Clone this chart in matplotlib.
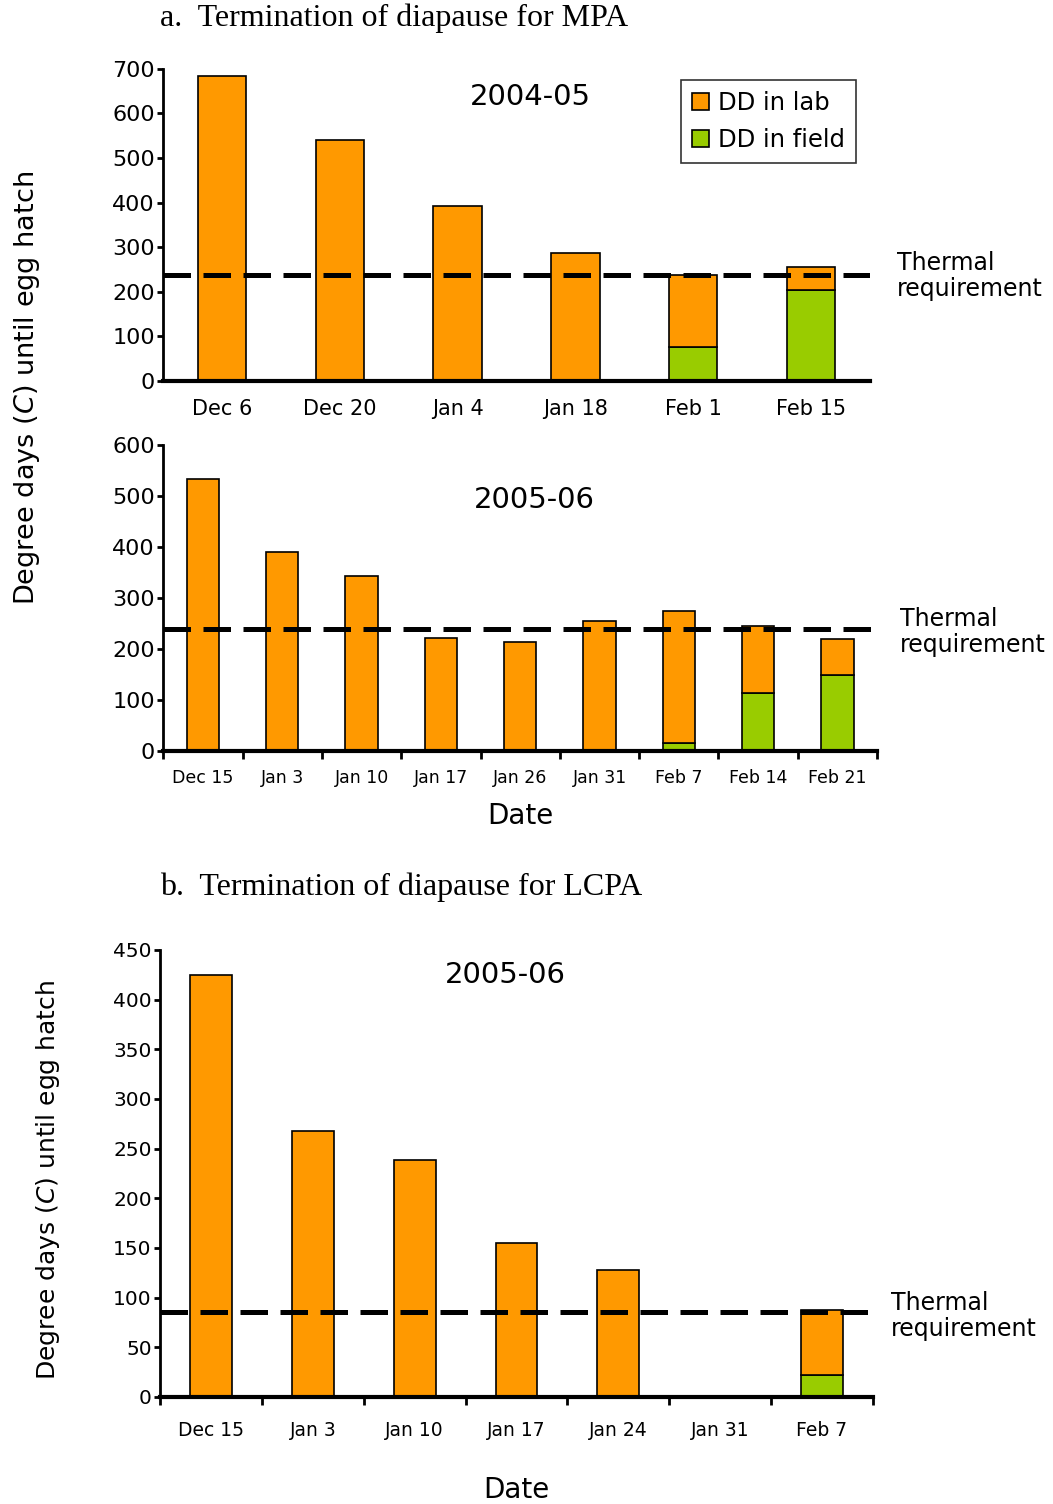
import matplotlib.pyplot as plt
from matplotlib.ticker import FixedLocator

# ---------------- data ----------------
dates_mpa_0405 = ["Dec 6", "Dec 20", "Jan 4", "Jan 18", "Feb 1", "Feb 15"]
total_mpa_0405 = [683, 541, 393, 287, 238, 256]
field_mpa_0405 = [0, 0, 0, 0, 77, 204]
thermal_mpa = 238

dates_mpa_0506 = ["Dec 15", "Jan 3", "Jan 10", "Jan 17", "Jan 26", "Jan 31", "Feb 7", "Feb 14", "Feb 21"]
total_mpa_0506 = [533, 390, 343, 222, 213, 254, 274, 245, 220]
field_mpa_0506 = [0, 0, 0, 0, 0, 0, 15, 114, 148]

dates_lcpa = ["Dec 15", "Jan 3", "Jan 10", "Jan 17", "Jan 24", "Jan 31", "Feb 7"]
total_lcpa = [425, 268, 239, 155, 128, 0, 88]
field_lcpa = [0, 0, 0, 0, 0, 0, 22]
thermal_lcpa = 85

orange = "#FF9900"
green = "#99CC00"
ylab = r"Degree days ($\mathit{C}$) until egg hatch"


def panel(ax, dates, total, field, thermal, ylim, yticks, xfs, yfs, year, boundary_ticks, xpad):
    x = list(range(len(dates)))
    lab = [t - f for t, f in zip(total, field)]
    ax.bar(x, field, width=0.41, color=green, edgecolor="black", linewidth=1.2, label="DD in field")
    ax.bar(x, lab, width=0.41, bottom=field, color=orange, edgecolor="black", linewidth=1.2, label="DD in lab")
    ax.axhline(thermal, color="black", linewidth=3.6, dashes=(5.5, 2.5))
    ax.set_xlim(-0.5, len(dates) - 0.5)
    ax.set_ylim(*ylim)
    ax.set_yticks(yticks)
    ax.set_xticks(x)
    ax.set_xticklabels(dates, fontsize=xfs)
    ax.tick_params(axis="x", which="major", length=0, pad=xpad)
    ax.tick_params(axis="y", labelsize=yfs, direction="out", length=4, width=2, pad=2)
    if boundary_ticks:
        ax.xaxis.set_minor_locator(FixedLocator([i - 0.5 for i in range(len(dates) + 1)]))
        ax.tick_params(axis="x", which="minor", direction="out", length=6, width=2)
    for s in ["top", "right"]:
        ax.spines[s].set_visible(False)
    ax.spines["left"].set_linewidth(2)
    ax.spines["bottom"].set_linewidth(3)
    ax.text(0.52, 0.9, year, transform=ax.transAxes, ha="center", va="center", fontsize=21)


fig = plt.figure(figsize=(10.53, 15.04), dpi=100)

ax1 = fig.add_axes([0.155, 0.7467, 0.671, 0.2075])
panel(ax1, dates_mpa_0405, total_mpa_0405, field_mpa_0405, thermal_mpa,
      (0, 700), range(0, 701, 100), 15, 16, "2004-05", False, 13)
h, l = ax1.get_legend_handles_labels()
leg = ax1.legend(h[::-1], l[::-1], loc="upper left", bbox_to_anchor=(0.733, 0.965), fontsize=17.5,
                 frameon=True, fancybox=False, handlelength=0.7, handleheight=0.7,
                 handletextpad=0.35, borderpad=0.45, labelspacing=0.55, borderaxespad=0)
leg.get_frame().set_edgecolor("black")
leg.get_frame().set_linewidth(1.2)
ax1.texts[0].set_position((0.52, 0.91))

ax2 = fig.add_axes([0.155, 0.5009, 0.678, 0.2032])
panel(ax2, dates_mpa_0506, total_mpa_0506, field_mpa_0506, thermal_mpa,
      (0, 600), range(0, 601, 100), 12.5, 16, "2005-06", True, 13)
ax2.texts[0].set_position((0.52, 0.82))
ax2.set_xlabel("Date", fontsize=20, labelpad=11)

ax3 = fig.add_axes([0.152, 0.0712, 0.677, 0.2972])
panel(ax3, dates_lcpa, total_lcpa, field_lcpa, thermal_lcpa,
      (0, 450), range(0, 451, 50), 13.5, 14.5, "2005-06", True, 17)
ax3.texts[0].set_position((0.485, 0.945))
ax3.set_xlabel("Date", fontsize=20, labelpad=26)

# titles and side texts
fig.text(160 / 1053, 1 - 18 / 1504, "a.  Termination of diapause for MPA",
         family="Liberation Serif", fontsize=23, ha="left", va="center")
fig.text(160 / 1053, 1 - 887 / 1504, "b.  Termination of diapause for LCPA",
         family="Liberation Serif", fontsize=23, ha="left", va="center")

fig.text(27 / 1053, 1 - 388 / 1504, ylab, rotation=90, fontsize=19.5, ha="center", va="center")
fig.text(48 / 1053, 1 - 1180 / 1504, ylab, rotation=90, fontsize=18, ha="center", va="center")

for xp, yp in [(897, 276), (900, 632), (891, 1316)]:
    fig.text(xp / 1053, 1 - yp / 1504, "Thermal\nrequirement", fontsize=17,
             ha="left", va="center", linespacing=1.15)

fig.savefig("out.png", dpi=100)
